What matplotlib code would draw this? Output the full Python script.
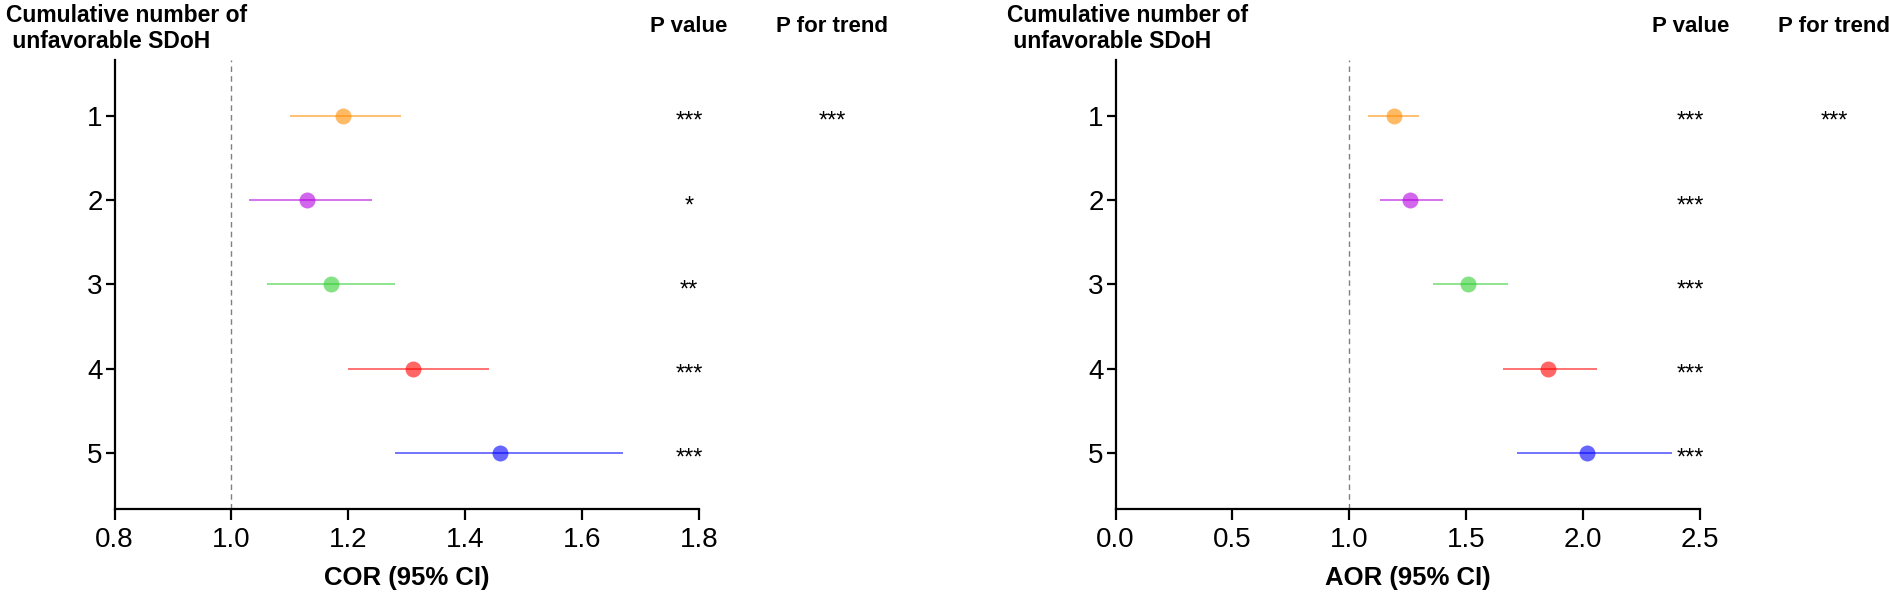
import matplotlib
matplotlib.use("Agg")
import matplotlib.pyplot as plt
import matplotlib.transforms as mtransforms

plt.rcParams['font.family'] = ['Liberation Sans', 'DejaVu Sans']

groups = [1, 2, 3, 4, 5]
colors = ['darkorange', '#B400E0', 'limegreen', 'red', 'blue']

cor = [1.19, 1.13, 1.17, 1.31, 1.46]
cor_lo = [1.10, 1.03, 1.06, 1.20, 1.28]
cor_hi = [1.29, 1.24, 1.28, 1.44, 1.67]
cor_p = ['***', '*', '**', '***', '***']
cor_trend = '***'

aor = [1.19, 1.26, 1.51, 1.85, 2.02]
aor_lo = [1.08, 1.13, 1.36, 1.66, 1.72]
aor_hi = [1.30, 1.40, 1.68, 2.06, 2.38]
aor_p = ['***', '***', '***', '***', '***']
aor_trend = '***'

cor_ticks = [0.8, 1.0, 1.2, 1.4, 1.6, 1.8]
aor_ticks = [0.0, 0.5, 1.0, 1.5, 2.0, 2.5]

fig = plt.figure(figsize=(18.93, 6.0), dpi=100)
ax1 = fig.add_axes([0.0605, 0.1517, 0.3088, 0.7483])
ax2 = fig.add_axes([0.5893, 0.1517, 0.3085, 0.7483])


def panel(ax, est, lo, hi, pvals, trend, ticks, xlabel, pcol, tcol, headx):
    for g, e, l, h, c in zip(groups, est, lo, hi, colors):
        ax.plot([l, h], [g, g], color=c, alpha=0.55, lw=1.4, solid_capstyle='butt', zorder=2)
        ax.plot([e], [g], 'o', color=c, alpha=0.6, markersize=11.5, markeredgewidth=0, zorder=3)
    ax.axvline(1.0, color='#808080', lw=1.0, ls=(0, (4, 3)), zorder=1)
    ax.set_xlim(ticks[0], ticks[-1])
    ax.set_ylim(5.665, 0.335)
    ax.set_xticks(ticks)
    ax.set_xticklabels([f"{t:.1f}" for t in ticks])
    ax.set_yticks(groups)
    ax.set_yticklabels([str(g) for g in groups])
    for s in ['top', 'right']:
        ax.spines[s].set_visible(False)
    for s in ['left', 'bottom']:
        ax.spines[s].set_linewidth(1.6)
    ax.tick_params(axis='x', length=8, width=1.6, labelsize=20, pad=5)
    ax.tick_params(axis='y', length=6.5, width=1.6, labelsize=20, pad=2)
    ax.set_xlabel(xlabel, fontsize=18.5, fontweight='bold', labelpad=9)
    trans = mtransforms.blended_transform_factory(ax.transAxes, ax.transData)
    for g, p in zip(groups, pvals):
        ax.text(pcol, g + 0.07, p, transform=trans, ha='center', va='center', fontsize=17)
    ax.text(tcol, groups[0] + 0.07, trend, transform=trans, ha='center', va='center', fontsize=17)
    ax.text(pcol, 1.0735, 'P value', transform=ax.transAxes, ha='center', va='center',
            fontsize=16, fontweight='bold')
    ax.text(tcol, 1.0735, 'P for trend', transform=ax.transAxes, ha='center', va='center',
            fontsize=16, fontweight='bold')
    fig.text(headx, 1 - 16 / 600, 'Cumulative number of', ha='left', va='center',
             fontsize=16.5, fontweight='bold')
    fig.text(headx, 1 - 42 / 600, ' unfavorable SDoH', ha='left', va='center',
             fontsize=16.5, fontweight='bold')


panel(ax1, cor, cor_lo, cor_hi, cor_p, cor_trend, cor_ticks, 'COR (95% CI)', 0.983, 1.2275, 6 / 1893)
panel(ax2, aor, aor_lo, aor_hi, aor_p, aor_trend, aor_ticks, 'AOR (95% CI)', 0.9846, 1.230, 1007 / 1893)

fig.savefig('out.png', dpi=100)
